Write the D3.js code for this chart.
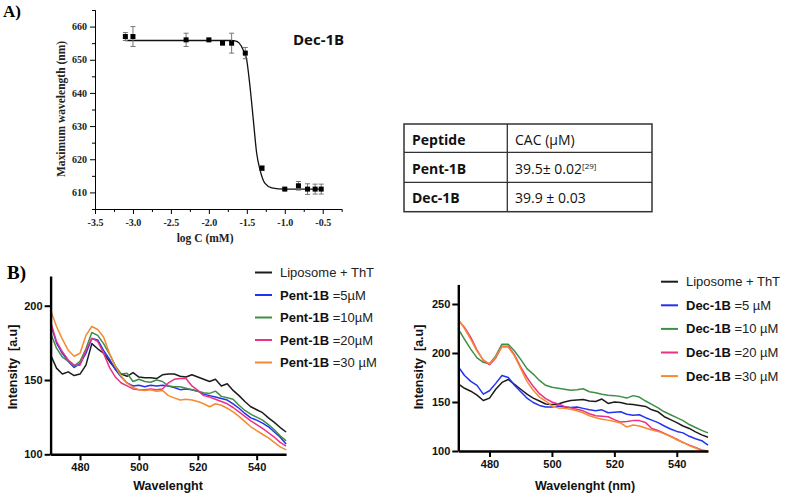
<!DOCTYPE html>
<html>
<head>
<meta charset="utf-8">
<script src="https://cdn.jsdelivr.net/npm/d3@7"></script>
<style>
  body { margin: 0; background: #fff; }
  svg { display: block; }
</style>
</head>
<body>
<div id="figure"></div>
<script>
// ---- Panel A data: CAC titration of Dec-1B ----
const logC = [-3.1, -3.0, -2.3, -2.0, -1.82, -1.7, -1.52, -1.3, -1.0, -0.82, -0.7, -0.6, -0.52];
const maxWl = [657, 657, 656, 656, 655, 655, 652, 617.3, 611, 612, 611, 611, 611];
const maxWlErr = [1.2, 3, 2, 0.3, 0.3, 3, 1.7, 0.7, 0.3, 1.3, 1.6, 1.5, 1.5];
// fitted sigmoid
const fitX = [-3.1, -1.7, -1.655, -1.603, -1.546, -1.501, -1.458, -1.414, -1.37, -1.326, -1.26, -1.172, -1.0, -0.52];
const fitY = [655.8, 655.8, 655.7, 655.1, 652.9, 649.9, 641.9, 631.8, 621.8, 616.8, 612.7, 611.4, 611.0, 611.0];

// ---- Table ----
const tableHead = ["Peptide", "CAC (µM)"];
const tablePeptides = ["Pent-1B", "Dec-1B"];
const tableCac = ["39.5± 0.02", "39.9 ± 0.03"];
const tableRefs = ["[29]", ""];

// ---- Panel B data: ThT spectra ----
const wavelengths = [470, 472, 474, 476, 478, 480, 482, 484, 486, 488, 490, 492, 494, 496, 498, 500, 502, 504, 506, 508,
  510, 512, 514, 516, 518, 520, 522, 524, 526, 528, 530, 532, 534, 536, 538, 540, 542, 544, 546, 548, 550];

const pentLipo = [167, 158, 154, 155.5, 153, 154, 160, 174.5, 171, 168, 162.5, 157.5, 154, 152.5, 155, 152, 151.5, 151.5, 151, 153.5,
  154, 154, 152.5, 152, 153.5, 152, 150.5, 149, 150.5, 146, 147.5, 143, 139.5, 135.5, 132, 130, 128, 124.5, 121.5, 118, 115];
const pent5 = [188, 175, 168, 162.5, 158.5, 161, 168, 178, 177, 170, 164, 157, 152, 148, 146, 146.5, 145.5, 146.5, 146, 146.5,
  146, 145, 143.5, 144, 143.5, 142.5, 140.5, 139.5, 138.5, 137.5, 136.5, 134, 131, 127.5, 124.5, 123, 121, 118.5, 115, 111.5, 107];
const pent10 = [181.5, 171.5, 165.5, 162.5, 159.5, 162.5, 171, 182, 180, 174.5, 167.5, 159.5, 154, 154.5, 149, 150.5, 149, 148.5, 150, 149,
  146, 145.5, 145.5, 144.5, 143.5, 142.5, 141.5, 141, 142.5, 139, 138, 137, 133, 129.5, 127, 125, 123, 120, 116.5, 112.5, 109];
const pent20 = [189, 176, 169, 163.5, 160, 160, 170, 178, 176, 168, 158.5, 152, 148, 146, 144, 143.5, 143.5, 144, 143.5, 144,
  148, 150.5, 151, 151, 146, 143, 139.5, 138.5, 137, 135.5, 134, 131.5, 128.5, 125.5, 122.5, 120, 117.5, 114.5, 111.5, 108, 105.5];
const pent30 = [197, 186, 177.5, 170, 166, 168, 180, 186, 184, 179, 168, 159, 152.5, 148, 145, 143.5, 143, 143.5, 142.5, 143,
  139.5, 138, 136.5, 137, 136.5, 135.5, 134, 132, 134, 133, 131, 128.5, 125.5, 122, 118.5, 116, 113.5, 111, 108, 105, 103];

const decLipo = [168.5, 164, 161, 157, 151.5, 154, 163, 170, 173, 168, 163, 158, 154, 151, 148, 147.5, 148, 150, 151.5, 152,
  152.5, 151, 150.5, 153, 148.5, 150, 149.5, 148, 147.5, 146.5, 145.5, 142, 140, 135, 132, 129, 125.5, 123, 119.5, 116.5, 114];
const dec5 = [186, 177, 171, 167, 158, 161.5, 169, 177, 175, 167, 160.5, 154, 149.5, 146.5, 145, 145, 146, 145, 144.5, 145,
  143.5, 142, 141, 142, 139, 139.5, 140, 137.5, 136.5, 137, 134, 131.5, 129, 125.5, 122.5, 120, 118.5, 115, 112.5, 110.5, 106];
const dec10 = [224.5, 214, 204, 195, 190.5, 189, 197, 209, 209, 202, 193.5, 184, 178.5, 172, 167, 165, 164, 163, 162, 162.5,
  163.5, 160.5, 159.5, 158, 157, 156.5, 155.5, 154, 156.5, 155, 151, 147.5, 144, 140, 137, 134, 131, 127, 124, 121, 118.5];
const dec20 = [233.5, 226, 216, 203, 192.5, 188, 195, 207, 207, 198, 185.5, 175, 166, 158.5, 153.5, 150, 148, 145.5, 144, 142.5,
  141, 138, 136, 135.5, 135, 132, 129.5, 130, 131, 131, 129, 123, 121, 118, 115, 112, 108.5, 106, 103.5, 101, 100];
const dec30 = [234.5, 225, 214, 202, 193, 189, 196, 206.5, 206, 197, 184, 171, 162, 155, 151, 146, 144, 143.5, 142.5, 141,
  139, 136, 134, 132.5, 131.5, 130, 128.5, 124.5, 126.5, 125.5, 123.5, 121.5, 120, 117.5, 115, 111.5, 109, 105.5, 103, 100.5, 100];

const seriesColors = ["#1c1c1c", "#2233f0", "#3f8f47", "#ec3184", "#f68a30"];
const pentNames = ["=5µM", "=10µM", "=20µM", "=30 µM"];
const decNames = ["=5 µM", "=10 µM", "=20 µM", "=30 µM"];

const W = 799, H = 497;
const svg = d3.select("#figure").append("svg").attr("width", W).attr("height", H);

const serif = "'Liberation Serif', 'Times New Roman', serif";
const sans = "'Liberation Sans', Arial, sans-serif";
const candara = "'Open Sans', 'Noto Sans', sans-serif";

// ================= Panel A =================
svg.append("text").attr("x", 3).attr("y", 17)
  .attr("font-family", serif).attr("font-weight", "bold").attr("font-size", 17).text("A)");

const xA = d3.scaleLinear().domain([-3.5, -0.25]).range([95, 341.7]);
const yA = d3.scaleLinear().domain([605, 665]).range([209, 10]);

const gA = svg.append("g");

// minor ticks
gA.append("g").attr("transform", "translate(0,209)")
  .call(d3.axisBottom(xA).tickValues(d3.range(-3.25, -0.25, 0.5)).tickSize(3).tickFormat(""));
gA.append("g").attr("transform", "translate(95,0)")
  .call(d3.axisLeft(yA).tickValues(d3.range(605, 666, 10)).tickSize(3).tickFormat(""));

// major axes
gA.append("g").attr("class", "axA").attr("transform", "translate(0,209)")
  .call(d3.axisBottom(xA).tickValues([-3.5, -3, -2.5, -2, -1.5, -1, -0.5]).tickSize(5).tickSizeOuter(0)
    .tickFormat(d => d.toFixed(1)));
gA.append("g").attr("class", "axA").attr("transform", "translate(95,0)")
  .call(d3.axisLeft(yA).tickValues([610, 620, 630, 640, 650, 660]).tickSize(5).tickSizeOuter(0));

gA.selectAll("text")
  .attr("font-family", serif).attr("font-weight", "bold").attr("font-size", 10).attr("fill", "#222");
gA.selectAll(".axA .tick text").filter(function () { return this.parentNode.parentNode.getAttribute("transform") === "translate(0,209)"; })
  .attr("dy", "0.9em");

// axis titles
svg.append("text").attr("x", xA(-2.05)).attr("y", 242).attr("text-anchor", "middle")
  .attr("font-family", serif).attr("font-weight", "bold").attr("font-size", 11.5).attr("fill", "#222")
  .text("log C (mM)");
svg.append("text").attr("transform", "translate(65,109) rotate(-90)").attr("text-anchor", "middle")
  .attr("font-family", serif).attr("font-weight", "bold").attr("font-size", 11.5).attr("fill", "#222")
  .text("Maximum wavelength (nm)");

// fit curve
const fitLine = d3.line().x(d => xA(d[0])).y(d => yA(d[1])).curve(d3.curveMonotoneX);
gA.append("path").datum(fitX.map((x, i) => [x, fitY[i]]))
  .attr("d", fitLine).attr("fill", "none").attr("stroke", "#111").attr("stroke-width", 1.3);

// error bars
const ptsA = logC.map((x, i) => ({ x, y: maxWl[i], e: maxWlErr[i] }));
const eb = gA.append("g").attr("stroke", "#777").attr("stroke-width", 1);
eb.selectAll(".v").data(ptsA).enter().append("line")
  .attr("x1", d => xA(d.x)).attr("x2", d => xA(d.x))
  .attr("y1", d => yA(d.y - d.e)).attr("y2", d => yA(d.y + d.e));
eb.selectAll(".ct").data(ptsA).enter().append("line")
  .attr("x1", d => xA(d.x) - 2.5).attr("x2", d => xA(d.x) + 2.5)
  .attr("y1", d => yA(d.y + d.e)).attr("y2", d => yA(d.y + d.e));
eb.selectAll(".cb").data(ptsA).enter().append("line")
  .attr("x1", d => xA(d.x) - 2.5).attr("x2", d => xA(d.x) + 2.5)
  .attr("y1", d => yA(d.y - d.e)).attr("y2", d => yA(d.y - d.e));

// square markers
gA.selectAll(".pt").data(ptsA).enter().append("rect")
  .attr("x", d => xA(d.x) - 2.5).attr("y", d => yA(d.y) - 2.5)
  .attr("width", 5).attr("height", 5).attr("fill", "#000");

svg.append("text").attr("x", 293).attr("y", 45)
  .attr("font-family", candara).attr("font-weight", "bold").attr("font-size", 15).attr("fill", "#111")
  .text("Dec-1B");

// ================= Table =================
const tb = svg.append("g");
const colX = [404, 507.3, 652];
const rowY = [124, 152.3, 182.3, 211.7];
tb.append("rect").attr("x", colX[0]).attr("y", rowY[0])
  .attr("width", colX[2] - colX[0]).attr("height", rowY[3] - rowY[0])
  .attr("fill", "none").attr("stroke", "#333").attr("stroke-width", 1.5);
[rowY[1], rowY[2]].forEach(y => tb.append("line").attr("x1", colX[0]).attr("x2", colX[2])
  .attr("y1", y).attr("y2", y).attr("stroke", "#333").attr("stroke-width", 1.3));
tb.append("line").attr("x1", colX[1]).attr("x2", colX[1]).attr("y1", rowY[0]).attr("y2", rowY[3])
  .attr("stroke", "#333").attr("stroke-width", 1.3);

const baseY = [145, 174, 203];
tb.append("text").attr("x", 412).attr("y", baseY[0]).attr("font-family", candara)
  .attr("font-weight", "bold").attr("font-size", 14).attr("fill", "#111").text(tableHead[0]);
tb.append("text").attr("x", 515).attr("y", baseY[0]).attr("font-family", candara)
  .attr("font-size", 14).attr("fill", "#111").text(tableHead[1]);
tablePeptides.forEach((p, i) => {
  tb.append("text").attr("x", 412).attr("y", baseY[i + 1]).attr("font-family", candara)
    .attr("font-weight", "bold").attr("font-size", 14).attr("fill", "#111").text(p);
  const t = tb.append("text").attr("x", 515).attr("y", baseY[i + 1]).attr("font-family", candara)
    .attr("font-size", 14).attr("fill", "#111").text(tableCac[i]);
  if (tableRefs[i]) {
    t.append("tspan").attr("dy", -5).attr("font-size", 8).text(tableRefs[i]);
  }
});

// ================= Panel B =================
svg.append("text").attr("x", 7).attr("y", 279)
  .attr("font-family", serif).attr("font-weight", "bold").attr("font-size", 19).text("B)");

function drawSpectra(opts) {
  const x = d3.scaleLinear().domain([470, 550]).range(opts.xRange);
  const y = d3.scaleLinear().domain(opts.yDomain).range(opts.yRange);
  const g = svg.append("g");

  const line = d3.line().x((d, i) => x(wavelengths[i])).y(d => y(Math.max(d, 100)));
  opts.series.forEach((vals, k) => {
    g.append("path").datum(vals).attr("d", line)
      .attr("fill", "none").attr("stroke", seriesColors[k]).attr("stroke-width", 1.5)
      .attr("stroke-linejoin", "round");
  });

  const xAxis = g.append("g").attr("transform", `translate(0,${opts.yRange[0]})`)
    .call(d3.axisBottom(x).tickValues([480, 500, 520, 540]).tickSize(6).tickSizeOuter(0).tickPadding(3));
  const yAxis = g.append("g").attr("transform", `translate(${opts.xRange[0]},0)`)
    .call(d3.axisLeft(y).tickValues(opts.yTicks).tickSize(6).tickSizeOuter(0).tickPadding(2));
  [xAxis, yAxis].forEach(a => {
    a.select(".domain").attr("stroke", "#000").attr("stroke-width", 2.4);
    a.selectAll(".tick line").attr("stroke", "#000").attr("stroke-width", 2);
    a.selectAll("text").attr("font-family", sans).attr("font-weight", "bold")
      .attr("font-size", 11).attr("fill", "#111");
  });

  // axis titles
  svg.append("text").attr("x", opts.xTitleX).attr("y", 490).attr("text-anchor", "middle")
    .attr("font-family", sans).attr("font-weight", "bold").attr("font-size", 12.5).attr("fill", "#111")
    .text(opts.xTitle);
  svg.append("text").attr("transform", `translate(${opts.yTitleX},367) rotate(-90)`).attr("text-anchor", "middle")
    .attr("font-family", sans).attr("font-weight", "bold").attr("font-size", 12.5).attr("fill", "#111")
    .text("Intensity  [a.u]").attr("xml:space", "preserve").style("white-space", "pre");

  // legend
  const lg = svg.append("g");
  opts.series.forEach((vals, k) => {
    const ly = opts.legendY + k * opts.legendStep;
    lg.append("line").attr("x1", opts.legendX).attr("x2", opts.legendX + 17)
      .attr("y1", ly).attr("y2", ly).attr("stroke", seriesColors[k]).attr("stroke-width", 2);
    const t = lg.append("text").attr("x", opts.legendX + 25).attr("y", ly + 4.5)
      .attr("font-family", sans).attr("font-size", 13).attr("fill", "#222");
    if (k === 0) {
      t.text("Liposome + ThT");
    } else {
      t.append("tspan").attr("font-weight", "bold").attr("fill", "#111").text(opts.peptide + " ");
      t.append("tspan").text(opts.names[k - 1]);
    }
  });
}

drawSpectra({
  xRange: [50.6, 286.1], yDomain: [100, 220], yRange: [454.3, 276], yTicks: [100, 150, 200],
  series: [pentLipo, pent5, pent10, pent20, pent30], peptide: "Pent-1B", names: pentNames,
  xTitle: "Wavelenght", xTitleX: 168, yTitleX: 17, legendX: 255, legendY: 272.5, legendStep: 22.5
});
drawSpectra({
  xRange: [458.3, 708], yDomain: [100, 270], yRange: [451, 284.4], yTicks: [100, 150, 200, 250],
  series: [decLipo, dec5, dec10, dec20, dec30], peptide: "Dec-1B", names: decNames,
  xTitle: "Wavelenght (nm)", xTitleX: 585, yTitleX: 423, legendX: 661, legendY: 281.7, legendStep: 23.6
});
</script>
</body>
</html>
